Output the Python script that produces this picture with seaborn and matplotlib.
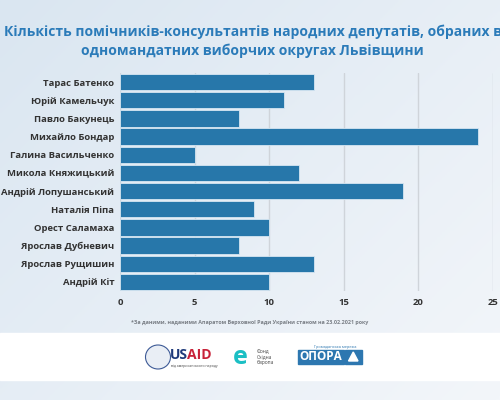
import matplotlib.pyplot as plt
import matplotlib.patches as mpatches
import numpy as np
import pandas as pd
import seaborn as sns

# Data
deputies = ["Тарас Батенко", "Юрій Камельчук", "Павло Бакунець", "Михайло Бондар",
            "Галина Васильченко", "Микола Княжицький", "Андрій Лопушанський",
            "Наталія Піпа", "Орест Саламаха", "Ярослав Дубневич",
            "Ярослав Рущишин", "Андрій Кіт"]
assistants = [13, 11, 8, 24, 5, 12, 19, 9, 10, 8, 13, 10]
x_ticks = [0, 5, 10, 15, 20, 25]

title = ("Кількість помічників-консультантів народних депутатів, обраних в\n"
         "одномандатних виборчих округах Львівщини")
note = "*За даними, наданими Апаратом Верховної Ради України станом на 23.02.2021 року"

df = pd.DataFrame({"name": deputies, "count": assistants})

sns.set_theme(style="white")
plt.rcParams['font.family'] = ['Open Sans', 'DejaVu Sans']

fig = plt.figure(figsize=(5, 4), dpi=100)

# background gradient, darker top-left, lighter bottom-right
bg = fig.add_axes([0, 0, 1, 1], zorder=-10)
gx, gy = np.meshgrid(np.linspace(0, 1, 200), np.linspace(0, 1, 160))
grad = 0.55 * gx + 0.45 * gy
bg.imshow(grad, cmap=sns.blend_palette(["#dae6f1", "#f3f6fa"], as_cmap=True),
          extent=[0, 1, 0, 1], aspect='auto', origin='upper')
bg.add_patch(mpatches.Rectangle((0, 1 - 380 / 400), 1, 47 / 400, color="white"))
bg.set_xlim(0, 1)
bg.set_ylim(0, 1)
bg.axis('off')

ax = fig.add_axes([0.24, 0.2725, 0.746, 0.545])
sns.barplot(data=df, x="count", y="name", color="#2777aa", saturation=1,
            width=0.9, edgecolor="#d6e6f2", linewidth=0.6, ax=ax)
ax.set_facecolor("none")
ax.set_xlim(0, 25)
ax.set_xticks(x_ticks)
ax.xaxis.grid(True, color="#cfd4da", linewidth=1)
ax.set_axisbelow(True)
for s in ax.spines.values():
    s.set_visible(False)
ax.set_xlabel("")
ax.set_ylabel("")
ax.tick_params(axis='both', length=0, labelsize=6.8, colors="#333333")
ax.tick_params(axis='y', pad=4)
ax.tick_params(axis='x', pad=5)
for lbl in ax.get_xticklabels() + ax.get_yticklabels():
    lbl.set_fontweight('bold')

fig.text(0.505, 1 - 41 / 400, title, ha='center', va='center', fontsize=10,
         fontweight='bold', color="#2b7bb9", linespacing=1.4)
fig.text(0.5, 1 - 322 / 400, note, ha='center', va='center', fontsize=3.9,
         fontweight='bold', color="#7a7f86")

# logos (simplified)
bg.add_patch(mpatches.Ellipse((0.316, 1 - 357 / 400), 0.05, 0.06,
                              facecolor="#e9eef5", edgecolor="#3d5a96", linewidth=0.8))
bg.text(0.34, 1 - 355 / 400, "US", fontsize=10, fontweight='bold', color="#1f3a7a",
        va='center', ha='left')
bg.text(0.374, 1 - 355 / 400, "AID", fontsize=10, fontweight='bold', color="#c8233a",
        va='center', ha='left')
bg.text(0.342, 1 - 366 / 400, "від американського народу", fontsize=2.5, color="#444444",
        va='center', ha='left')
bg.text(0.48, 1 - 358 / 400, "e", fontsize=18, fontweight='bold', color="#1bbfc4",
        va='center', ha='center')
bg.text(0.513, 1 - 357 / 400, "Фонд\nСхідна\nЄвропа", fontsize=3.5, color="#444444",
        va='center', ha='left', linespacing=1.2)
bg.add_patch(mpatches.Rectangle((0.595, 1 - 364 / 400), 0.092, 14 / 400, color="#2d77b0"))
bg.text(0.641, 1 - 357 / 400, "ОПОРА", fontsize=8.5, fontweight='bold', color="white",
        va='center', ha='center')
bg.add_patch(mpatches.Rectangle((0.69, 1 - 364 / 400), 0.033, 14 / 400, color="#2d77b0"))
bg.add_patch(mpatches.Polygon([(0.697, 1 - 361 / 400), (0.716, 1 - 361 / 400),
                               (0.7065, 1 - 352 / 400)], color="white"))
bg.text(0.67, 1 - 347 / 400, "Громадянська мережа", fontsize=2.8, color="#2d77b0",
        va='center', ha='center')

fig.savefig("out.png", dpi=100)
